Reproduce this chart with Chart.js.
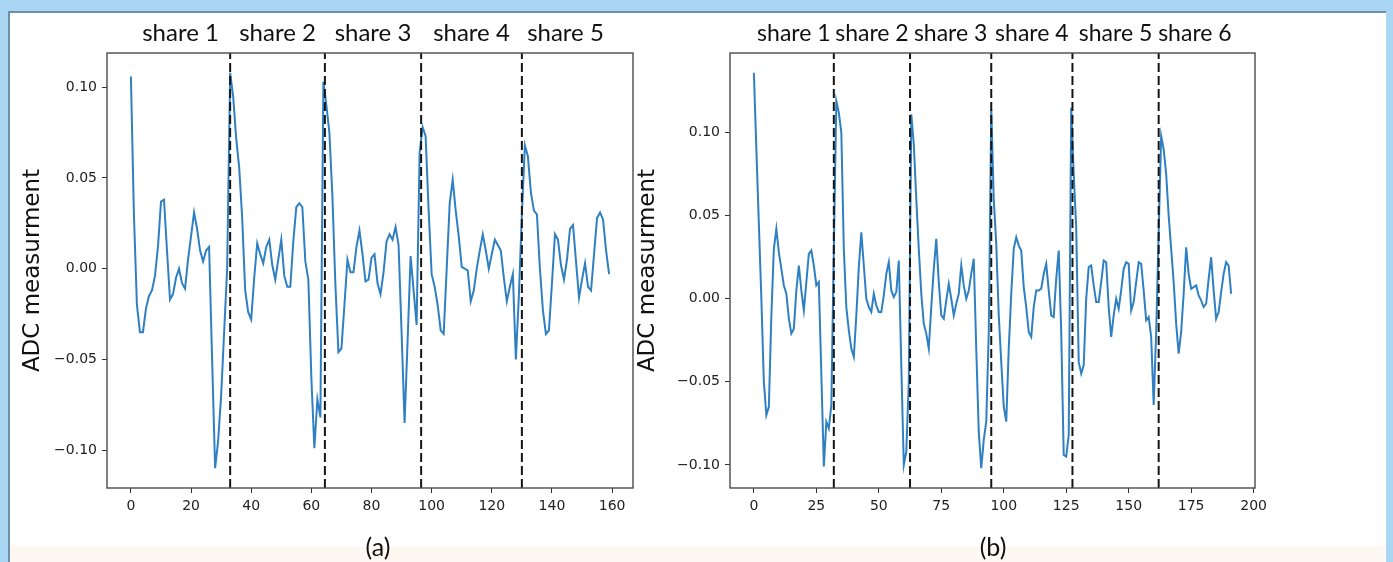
<!DOCTYPE html>
<html>
<head>
<meta charset="utf-8">
<script src="https://cdn.jsdelivr.net/npm/chart.js@4.4.1/dist/chart.umd.min.js"></script>
<style>
  html, body { margin: 0; padding: 0; }
  body { width: 1393px; height: 562px; background: #a9d6f3; position: relative; overflow: hidden; }
  #sheet { position: absolute; left: 8px; top: 11px; right: 7px; bottom: 0; background: #fff;
           border-left: 2px solid #6f8ea8; border-top: 2px solid #6f8ea8; }
  #foot { position: absolute; left: 10px; right: 7px; top: 546px; height: 16px; background: #fdf8f2; }
  canvas { position: absolute; top: 0; }
  .cap { position: absolute; top: 531px; font-family: Lato, sans-serif; font-size: 25px; color: #111;
         transform: translateX(-50%); }
</style>
</head>
<body>
<div id="sheet"></div>
<div id="foot"></div>
<canvas id="chartA" width="640" height="562" style="left:0px"></canvas>
<canvas id="chartB" width="753" height="562" style="left:627px"></canvas>
<div class="cap" style="left:378px">(a)</div>
<div class="cap" style="left:993px">(b)</div>
<script>
// (a) ADC trace, 160 samples, five shares
const adcA = [
  0.106, 0.030, -0.020, -0.035, -0.035, -0.022, -0.015, -0.012, -0.004, 0.012,
  0.037, 0.038, 0.010, -0.017, -0.014, -0.005, 0.000, -0.008, -0.011, 0.005,
  0.018, 0.031, 0.022, 0.010, 0.004, 0.010, 0.012, -0.050, -0.110, -0.095,
  -0.070, -0.035, 0.000, 0.108, 0.095, 0.072, 0.056, 0.028, -0.012, -0.024,
  -0.028, -0.005, 0.014, 0.008, 0.003, 0.012, 0.016, 0.002, -0.006, 0.005,
  0.016, -0.004, -0.010, -0.010, 0.015, 0.034, 0.036, 0.034, 0.004, -0.006,
  -0.060, -0.099, -0.072, -0.082, 0.103, 0.090, 0.075, 0.040, -0.009, -0.046,
  -0.044, -0.020, 0.005, -0.002, -0.002, 0.012, 0.021, 0.008, -0.007, -0.006,
  0.006, 0.008, -0.008, -0.014, -0.002, 0.015, 0.019, 0.016, 0.023, 0.013,
  -0.035, -0.085, -0.040, 0.007, -0.012, -0.031, 0.064, 0.078, 0.073, 0.032,
  -0.003, -0.010, -0.020, -0.034, -0.036, 0.000, 0.036, 0.049, 0.032, 0.018,
  0.001, 0.000, -0.001, -0.018, -0.012, 0.000, 0.010, 0.019, 0.010, 0.000,
  0.008, 0.016, 0.013, 0.010, -0.005, -0.018, -0.010, -0.003, -0.050, -0.015,
  0.030, 0.068, 0.062, 0.042, 0.032, 0.030, 0.000, -0.023, -0.036, -0.034,
  -0.008, 0.019, 0.016, 0.002, -0.006, 0.005, 0.022, 0.024, 0.004, -0.016,
  -0.006, 0.003, -0.010, -0.012, 0.008, 0.028, 0.031, 0.027, 0.010, -0.003
];
const sharesA = [33, 64.5, 96.5, 130];
const shareNamesA = ['share 1', 'share 2', 'share 3', 'share 4', 'share 5'];
const xTicksA = [0, 20, 40, 60, 80, 100, 120, 140, 160];
const yTicksA = [-0.10, -0.05, 0.00, 0.05, 0.10];

// (b) ADC trace, 192 samples, six shares
const adcB = [
  0.136, 0.090, 0.045, 0.000, -0.050, -0.070, -0.065, -0.010, 0.030, 0.042,
  0.028, 0.018, 0.008, 0.003, -0.012, -0.021, -0.018, 0.005, 0.020, 0.005,
  -0.007, 0.010, 0.027, 0.029, 0.020, 0.008, 0.010, -0.045, -0.101, -0.074,
  -0.078, -0.064, 0.030, 0.119, 0.112, 0.100, 0.030, -0.005, -0.019, -0.030,
  -0.035, -0.010, 0.019, 0.040, 0.020, 0.000, -0.005, -0.008, 0.003, -0.004,
  -0.008, -0.008, 0.002, 0.015, 0.022, 0.005, 0.001, 0.004, 0.023, -0.040,
  -0.100, -0.092, -0.050, 0.111, 0.093, 0.060, 0.030, 0.003, -0.015, -0.021,
  -0.030, -0.005, 0.018, 0.036, 0.010, -0.010, -0.012, -0.001, 0.009, 0.000,
  -0.010, -0.003, 0.003, 0.020, 0.008, 0.000, 0.005, 0.015, 0.024, -0.030,
  -0.080, -0.102, -0.085, -0.074, -0.020, 0.114, 0.060, 0.033, -0.010, -0.038,
  -0.065, -0.074, -0.030, 0.003, 0.030, 0.037, 0.032, 0.029, 0.007, -0.005,
  -0.020, -0.023, -0.005, 0.005, 0.005, 0.006, 0.015, 0.021, 0.005, -0.010,
  -0.011, 0.012, 0.029, -0.020, -0.094, -0.095, -0.082, 0.115, 0.075, 0.043,
  -0.038, -0.045, -0.040, 0.000, 0.019, 0.020, 0.008, -0.002, -0.002, 0.010,
  0.023, 0.022, -0.005, -0.023, -0.010, 0.000, -0.006, 0.005, 0.018, 0.022,
  0.021, -0.007, -0.002, 0.010, 0.022, 0.021, 0.005, -0.013, -0.011, -0.023,
  -0.064, -0.020, 0.040, 0.098, 0.090, 0.075, 0.050, 0.030, 0.010, -0.015,
  -0.033, -0.020, 0.003, 0.031, 0.015, 0.006, 0.007, 0.008, 0.002, -0.001,
  -0.005, -0.003, 0.012, 0.025, 0.005, -0.012, -0.008, 0.004, 0.015, 0.022,
  0.020, 0.003
];
const sharesB = [32, 62.5, 95, 127.5, 162];
const shareNamesB = ['share 1', 'share 2', 'share 3', 'share 4', 'share 5', 'share 6'];
const xTicksB = [0, 25, 50, 75, 100, 125, 150, 175, 200];
const yTicksB = [-0.10, -0.05, 0.00, 0.05, 0.10];

const tickFont = { family: 'DejaVu Sans', size: 14 };

// frame around the plot + share names above it
const sharePlugin = {
  id: 'shares',
  afterDraw(chart, args, opts) {
    const { ctx, chartArea, scales } = chart;
    ctx.save();
    ctx.strokeStyle = '#4a4a4a';
    ctx.lineWidth = 1.4;
    ctx.strokeRect(chartArea.left, chartArea.top, chartArea.width, chartArea.height);
    ctx.font = opts.fontSize + 'px Lato';
    ctx.fillStyle = '#111';
    ctx.textAlign = 'center';
    const edges = [0, ...opts.bounds, opts.last];
    opts.names.forEach((name, k) => {
      const mid = (edges[k] + edges[k + 1]) / 2;
      ctx.fillText(name, scales.x.getPixelForValue(mid), 41);
    });
    ctx.restore();
  }
};

function makeChart(id, values, bounds, names, xTicks, yTicks, axisWidth, titlePad, rightPad, fontSize) {
  const n = values.length - 1;
  const lo = Math.min(...values), hi = Math.max(...values);
  const yLo = lo - (hi - lo) * 0.05, yHi = hi + (hi - lo) * 0.05;

  const datasets = bounds.map(b => ({
    data: [{ x: b, y: yLo }, { x: b, y: yHi }],
    borderColor: '#151515',
    borderWidth: 2,
    borderDash: [9, 4],
    pointRadius: 0,
    order: 0
  }));
  datasets.push({
    data: values.map((v, i) => ({ x: i, y: v })),
    borderColor: '#2f80c2',
    borderWidth: 2,
    pointRadius: 0,
    tension: 0,
    order: 1
  });

  return new Chart(document.getElementById(id), {
    type: 'line',
    data: { datasets },
    options: {
      responsive: false,
      animation: false,
      devicePixelRatio: 1,
      layout: { padding: { top: 53, right: rightPad, bottom: 34, left: 0 } },
      plugins: {
        legend: { display: false },
        tooltip: { enabled: false },
        shares: { bounds, names, last: n, fontSize }
      },
      scales: {
        x: {
          type: 'linear',
          min: -0.05 * n,
          max: 1.05 * n,
          afterBuildTicks: s => { s.ticks = xTicks.map(v => ({ value: v })); },
          afterFit: s => { s.height = 40; },
          grid: { drawOnChartArea: false, drawTicks: true, tickLength: 5, color: '#333' },
          border: { display: false },
          ticks: { font: tickFont, color: '#222', padding: 5, maxRotation: 0, autoSkip: false,
                   callback: v => String(v) }
        },
        y: {
          min: yLo,
          max: yHi,
          afterBuildTicks: s => { s.ticks = yTicks.map(v => ({ value: v })); },
          afterFit: s => { s.width = axisWidth; },
          grid: { drawOnChartArea: false, drawTicks: true, tickLength: 5, color: '#333' },
          border: { display: false },
          ticks: { font: tickFont, color: '#222', padding: 5, autoSkip: false,
                   callback: v => (v < 0 ? '\u2212' : '') + Math.abs(v).toFixed(2) },
          title: { display: true, text: 'ADC measurment', color: '#111',
                   font: { family: 'DejaVu Sans', size: 23 }, padding: { top: titlePad, bottom: 0 } }
        }
      }
    },
    plugins: [sharePlugin]
  });
}

makeChart('chartA', adcA, sharesA, shareNamesA, xTicksA, yTicksA, 107, 19, 7, 24);
makeChart('chartB', adcB, sharesB, shareNamesB, xTicksB, yTicksB, 103, 7, 125, 23);
</script>
</body>
</html>
